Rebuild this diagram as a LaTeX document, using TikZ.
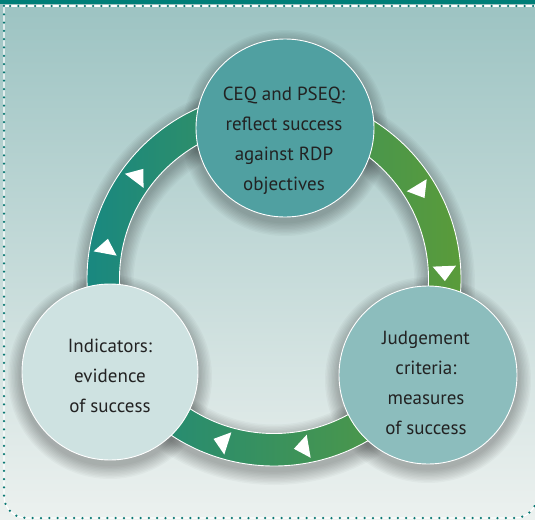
\documentclass[tikz,border=0pt]{standalone}
\usepackage{fontspec}
\setmainfont{PT Sans}
\usetikzlibrary{calc}
\definecolor{bgtop}{RGB}{156,195,194}
\definecolor{bgmid}{RGB}{208,226,224}
\definecolor{bgbot}{RGB}{236,241,239}
\definecolor{band}{RGB}{0,126,120}
\definecolor{dotc}{RGB}{10,120,115}
\definecolor{ringL}{RGB}{25,136,128}
\definecolor{ringR}{RGB}{90,155,58}
\definecolor{ctop}{RGB}{80,160,161}
\definecolor{cright}{RGB}{140,189,189}
\definecolor{cleft}{RGB}{206,226,225}
\definecolor{txt}{RGB}{34,34,34}
\begin{document}
\begin{tikzpicture}[x=1pt,y=-1pt,
  bubble/.style={circle, draw=white, line width=0.9pt, minimum size=178pt, inner sep=0pt},
  lbl/.style={text=txt, align=center, font=\fontsize{19}{30}\selectfont, inner sep=0pt},
  shadowfill/.style={black, opacity=0.028},
  arrowtip/.style={fill=white}]
\useasboundingbox (0,0) rectangle (535,519);
% background
\shade[top color=bgtop, middle color=bgmid, bottom color=bgbot] (0,0) rectangle (535,519);
% frame
\fill[band] (0,0) rectangle (535,4.5);
\draw[white, line width=1.2pt] (535,6) -- (4,6);
\draw[white, line width=1.2pt, rounded corners=22pt] (4,6) -- (4,518) -- (537,518) -- (537,6);
\draw[dotc, line width=2.5pt, line cap=round, dash pattern=on 0pt off 8.3pt] (533,6) -- (4,6);
\draw[dotc, line width=2.5pt, line cap=round, dash pattern=on 0pt off 8.3pt, rounded corners=22pt] (4,6) -- (4,518) -- (537,518) -- (537,6);
% ring centre
\coordinate (c) at (274,279);
% shadows
\foreach \k in {1,...,10}{
  \fill[shadowfill, even odd rule] ($(c)+(0,5)$) circle ({187+1.4*\k}) ($(c)+(0,5)$) circle ({154.5-1.4*\k});
  \fill[shadowfill] (285,133) circle ({89+1.4*\k});
  \fill[shadowfill] (110,377) circle ({88+1.4*\k});
  \fill[shadowfill] (428,380) circle ({89+1.4*\k});
}
% ring
\shade[even odd rule, left color=ringL, right color=ringR] (c) circle (187) (c) circle (154.5);
\draw[white, line width=0.9pt] (c) circle (187);
\draw[white, line width=0.9pt] (c) circle (154.5);
% arrows
\foreach \a in {-169.4,-142.9,-31.3,-2.3,80.3,107.7}{
  \fill[arrowtip] ($(c)+(\a:170.7)+(\a+90:9)$) -- ($(c)+(\a:159)+(\a-90:6)$) -- ($(c)+(\a:182.4)+(\a-90:6)$) -- cycle;
}
% circles
\node[bubble, fill=ctop] (topc) at (285,128) {};
\node[bubble, fill=cleft, minimum size=176pt] (leftc) at (110,372) {};
\node[bubble, fill=cright] (rightc) at (428,375) {};
% texts
\node[lbl] (toptext) at (284,141) {CEQ and PSEQ:\\reflect success\\against RDP\\objectives};
\node[lbl] (lefttext) at (110,376) {Indicators:\\evidence\\of success};
\node[lbl] (righttext) at (426,383) {Judgement\\criteria:\\measures\\of success};
\end{tikzpicture}
\end{document}
